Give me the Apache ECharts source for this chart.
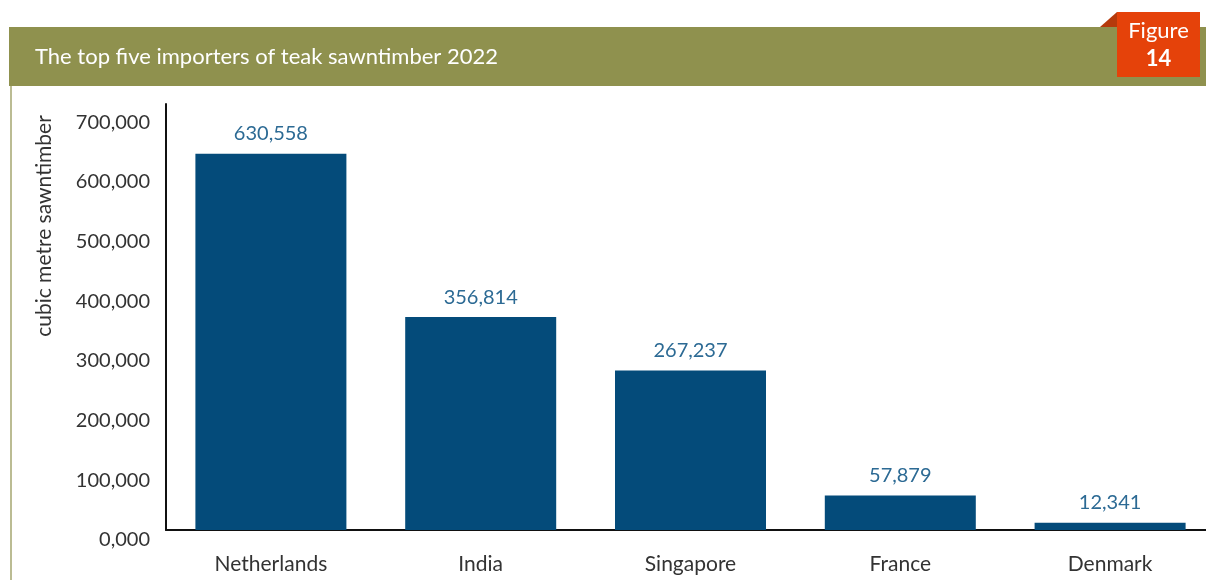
<!DOCTYPE html>
<html>
<head>
<meta charset="utf-8">
<title>Teak sawntimber importers 2022</title>
<script src="https://cdn.jsdelivr.net/npm/echarts@6/dist/echarts.min.js"></script>
<style>
  html, body { margin: 0; padding: 0; background: #fff; overflow: hidden; }
  /* a bit wider than the window: the last category slot runs past the right edge */
  #chart { width: 1216px; height: 580px; }
</style>
</head>
<body>
<div id="chart"></div>
<script>
// data
const countries = ['Netherlands', 'India', 'Singapore', 'France', 'Denmark'];
const volumes = [630558, 356814, 267237, 57879, 12341];
const yTickLabels = ['0,000', '100,000', '200,000', '300,000', '400,000', '500,000', '600,000', '700,000'];

const FONT = 'Lato, "Open Sans", sans-serif';
const chart = echarts.init(document.getElementById('chart'), null, { renderer: 'canvas' });

const option = {
  animation: false,
  backgroundColor: '#fff',
  graphic: [
    // header band
    { type: 'rect', shape: { x: 9, y: 27, width: 1207, height: 59 }, style: { fill: '#8f914e' }, z: 1 },
    { type: 'line', shape: { x1: 11, y1: 86, x2: 11, y2: 580 }, style: { stroke: '#a5a66f', lineWidth: 1.5 }, z: 1 },
    {
      type: 'text', x: 35, y: 57, z: 2,
      style: { text: 'The top five importers of teak sawntimber 2022', fill: '#fff', font: '22px ' + FONT, verticalAlign: 'middle' }
    },
    // figure badge
    { type: 'polygon', shape: { points: [[1100, 27], [1117, 12], [1117, 27]] }, style: { fill: '#b53a0c' }, z: 2 },
    { type: 'rect', shape: { x: 1117, y: 12, width: 83, height: 65 }, style: { fill: '#e5420a' }, z: 2 },
    { type: 'text', x: 1158.5, y: 31, z: 3, style: { text: 'Figure', fill: '#fff', font: '22px ' + FONT, align: 'center', verticalAlign: 'middle' } },
    { type: 'text', x: 1158.5, y: 59, z: 3, style: { text: '14', fill: '#fff', font: 'bold 22px ' + FONT, align: 'center', verticalAlign: 'middle' } },
    // y axis title
    {
      type: 'text', x: 44, y: 226, rotation: Math.PI / 2, z: 2,
      style: { text: 'cubic metre sawntimber', fill: '#333', font: '21px ' + FONT, align: 'center', verticalAlign: 'middle' }
    }
  ],
  grid: { left: 166, right: 1, top: 104, bottom: 50, containLabel: false },
  xAxis: {
    type: 'category',
    data: countries,
    axisLine: { lineStyle: { color: '#111', width: 2 } },
    axisTick: { show: false },
    axisLabel: { color: '#333', fontSize: 21, fontFamily: FONT, margin: 24 }
  },
  yAxis: {
    type: 'value',
    min: 0,
    max: 714000,
    interval: 100000,
    axisLine: { show: true, lineStyle: { color: '#111', width: 2 } },
    axisTick: { show: false },
    splitLine: { show: false },
    axisLabel: {
      color: '#333', fontSize: 20, fontFamily: FONT, margin: 16,
      verticalAlign: 'top',
      formatter: function (v) {
        if (v % 100000 !== 0) return '';
        return yTickLabels[v / 100000] || '';
      }
    }
  },
  series: [{
    type: 'bar',
    data: volumes,
    barWidth: 151,
    itemStyle: { color: '#044b7a' },
    label: {
      show: true,
      position: 'top',
      distance: 10,
      color: '#2c6a94',
      fontSize: 20,
      fontFamily: FONT,
      formatter: function (p) { return p.value.toLocaleString('en-US'); }
    }
  }]
};

chart.setOption(option);
</script>
</body>
</html>
